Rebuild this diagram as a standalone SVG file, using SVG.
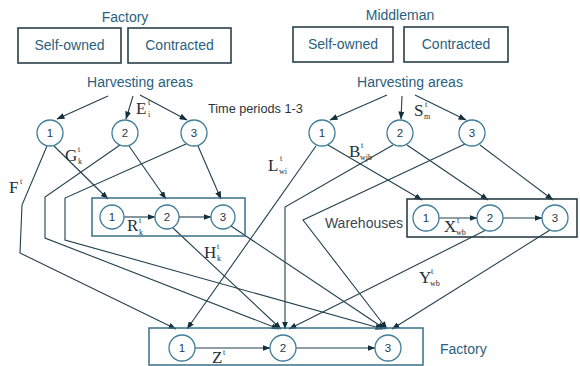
<svg xmlns="http://www.w3.org/2000/svg" width="580" height="366" viewBox="0 0 580 366">
<style>
.bg{fill:#ffffff}
.box{fill:none;stroke:#2b3f4a;stroke-width:1.6}
.wbox{fill:none;stroke:#3a6f88;stroke-width:1.5}
.circ{fill:#ffffff;stroke:#3f7d9a;stroke-width:1.3}
.lbl{font-family:"Liberation Sans",Arial,sans-serif;font-size:14px;fill:#2a5f80}
.num{font-family:"Liberation Sans",Arial,sans-serif;font-size:11.5px;fill:#1f3a4a;text-anchor:middle}
.tp{font-family:"Liberation Sans",Arial,sans-serif;font-size:12.7px;fill:#2a3440}
.m{font-family:"Liberation Serif","Times New Roman",serif;font-size:17px;fill:#1e2d38}
.s{font-family:"Liberation Serif","Times New Roman",serif;font-size:8px;fill:#1e2d38}
.ar{fill:none;stroke:#22404f;stroke-width:1.1;marker-end:url(#ah)}
</style>
<defs>
<marker id="ah" markerWidth="8" markerHeight="6" refX="7.5" refY="3" orient="auto" markerUnits="userSpaceOnUse">
<path d="M0,0 L8,3 L0,6 Z" fill="#15303d"/>
</marker>
</defs>
<rect class="bg" x="0" y="0" width="580" height="366"/>

<g id="factory-header">
<text class="lbl" x="125" y="22" text-anchor="middle">Factory</text>
</g>
<g id="factory-selfowned">
<rect class="box" x="18" y="28" width="103" height="35"/>
<text class="lbl" x="69.5" y="50" text-anchor="middle">Self-owned</text>
</g>
<g id="factory-contracted">
<rect class="box" x="128" y="28" width="103" height="35"/>
<text class="lbl" x="179.5" y="50" text-anchor="middle">Contracted</text>
</g>
<g id="middleman-header">
<text class="lbl" x="400" y="20" text-anchor="middle">Middleman</text>
</g>
<g id="middleman-selfowned">
<rect class="box" x="293" y="27" width="100" height="35"/>
<text class="lbl" x="343" y="49" text-anchor="middle">Self-owned</text>
</g>
<g id="middleman-contracted">
<rect class="box" x="404" y="27" width="104" height="35"/>
<text class="lbl" x="456" y="49" text-anchor="middle">Contracted</text>
</g>
<g id="harvest-left-label">
<text class="lbl" x="140" y="87" text-anchor="middle">Harvesting areas</text>
</g>
<g id="harvest-right-label">
<text class="lbl" x="410" y="87" text-anchor="middle">Harvesting areas</text>
</g>
<g id="time-periods">
<text class="tp" x="208" y="113">Time periods 1-3</text>
</g>

<g id="connectors">
<line class="ar" x1="108" y1="96" x2="57" y2="119"/>
<line class="ar" x1="133" y1="96" x2="126" y2="119"/>
<line class="ar" x1="140" y1="95" x2="187" y2="120"/>
<line class="ar" x1="387" y1="95" x2="330" y2="120"/>
<line class="ar" x1="402" y1="96" x2="401" y2="119"/>
<line class="ar" x1="415" y1="95" x2="466" y2="120"/>
<line class="ar" x1="54" y1="146" x2="108" y2="199"/>
<line class="ar" x1="129" y1="146" x2="166" y2="199"/>
<line class="ar" x1="198" y1="146" x2="221" y2="199"/>
<polyline class="ar" points="47,146 22,205 20,253 176,329"/>
<polyline class="ar" points="120,145 45,197 45,238 279,329"/>
<polyline class="ar" points="186,144 65,198 65,240 383,329"/>
<line class="ar" x1="173" y1="228" x2="281" y2="329"/>
<line class="ar" x1="231" y1="226" x2="385" y2="329"/>
<line class="ar" x1="328" y1="145" x2="422" y2="200"/>
<line class="ar" x1="407" y1="145" x2="488" y2="200"/>
<line class="ar" x1="480" y1="145" x2="553" y2="200"/>
<line class="ar" x1="316" y1="146" x2="187" y2="329"/>
<polyline class="ar" points="393,145 285,207 285,329"/>
<polyline class="ar" points="465,144 303,220 387,329"/>
<line class="ar" x1="486" y1="230" x2="289" y2="329"/>
<line class="ar" x1="550" y1="230" x2="392" y2="329"/>
<line class="ar" x1="124" y1="217" x2="155" y2="217"/>
<line class="ar" x1="179" y1="217" x2="211" y2="217"/>
<line class="ar" x1="439" y1="218" x2="477" y2="218"/>
<line class="ar" x1="503" y1="218" x2="542" y2="218"/>
<line class="ar" x1="195" y1="348" x2="270" y2="348"/>
<line class="ar" x1="296" y1="348" x2="375" y2="348"/>
</g>

<g id="left-harvest-1"><circle class="circ" cx="50" cy="133" r="13"/><text class="num" x="50" y="137">1</text></g>
<g id="left-harvest-2"><circle class="circ" cx="125" cy="133" r="13"/><text class="num" x="125" y="137">2</text></g>
<g id="left-harvest-3"><circle class="circ" cx="194" cy="133" r="13"/><text class="num" x="194" y="137">3</text></g>
<g id="right-harvest-1"><circle class="circ" cx="322" cy="133" r="13"/><text class="num" x="322" y="137">1</text></g>
<g id="right-harvest-2"><circle class="circ" cx="400" cy="133" r="13"/><text class="num" x="400" y="137">2</text></g>
<g id="right-harvest-3"><circle class="circ" cx="472" cy="133" r="13"/><text class="num" x="472" y="137">3</text></g>

<g id="left-warehouses">
<rect class="wbox" x="92" y="198" width="153" height="38"/>
<circle class="circ" cx="112" cy="217" r="12"/><text class="num" x="112" y="221">1</text>
<circle class="circ" cx="167" cy="217" r="12"/><text class="num" x="167" y="221">2</text>
<circle class="circ" cx="223" cy="217" r="12"/><text class="num" x="223" y="221">3</text>
</g>
<g id="right-warehouses">
<rect class="box" x="407" y="199" width="170" height="38"/>
<text class="lbl" x="403" y="228" text-anchor="end" style="fill:#3a4854">Warehouses</text>
<circle class="circ" cx="426" cy="218" r="13"/><text class="num" x="426" y="222">1</text>
<circle class="circ" cx="490" cy="218" r="13"/><text class="num" x="490" y="222">2</text>
<circle class="circ" cx="555" cy="218" r="13"/><text class="num" x="555" y="222">3</text>
</g>
<g id="factory">
<rect class="wbox" x="149" y="328" width="274" height="37"/>
<circle class="circ" cx="182" cy="348" r="13"/><text class="num" x="182" y="352">1</text>
<circle class="circ" cx="283" cy="348" r="13"/><text class="num" x="283" y="352">2</text>
<circle class="circ" cx="388" cy="348" r="13"/><text class="num" x="388" y="352">3</text>
<text class="lbl" x="440" y="354">Factory</text>
</g>

<g id="labels">
<text class="m" x="136" y="114">E</text><text class="s" x="148" y="105">t</text><text class="s" x="148" y="117">i</text>
<text class="m" x="414" y="116">S</text><text class="s" x="425" y="107">t</text><text class="s" x="424" y="119">m</text>
<text class="m" x="65" y="161">G</text><text class="s" x="78" y="152">t</text><text class="s" x="78" y="164">k</text>
<text class="m" x="9" y="193">F</text><text class="s" x="20" y="184">t</text>
<text class="m" x="127" y="231">R</text><text class="s" x="139" y="223">t</text><text class="s" x="139" y="235">k</text>
<text class="m" x="204" y="258">H</text><text class="s" x="217" y="249">t</text><text class="s" x="217" y="261">k</text>
<text class="m" x="268" y="171">L</text><text class="s" x="280" y="161">t</text><text class="s" x="279" y="174">wi</text>
<text class="m" x="349" y="157">B</text><text class="s" x="361" y="148">t</text><text class="s" x="360" y="160">wjb</text>
<text class="m" x="444" y="232">X</text><text class="s" x="457" y="223">t</text><text class="s" x="456" y="235">wb</text>
<text class="m" x="419" y="283">Y</text><text class="s" x="431" y="274">t</text><text class="s" x="430" y="286">wb</text>
<text class="m" x="212" y="363">Z</text><text class="s" x="223" y="355">t</text>
</g>
</svg>
